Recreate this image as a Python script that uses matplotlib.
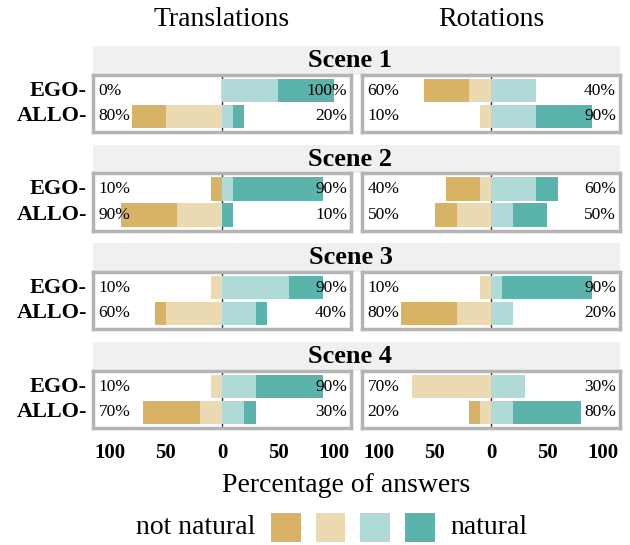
import matplotlib
matplotlib.use("Agg")
import matplotlib.pyplot as plt
from matplotlib.patches import Rectangle

plt.rcParams['font.family'] = ['Liberation Serif', 'DejaVu Serif']

# data: one [EGO, ALLO] pair per scene, in percent
scenes = ["Scene 1", "Scene 2", "Scene 3", "Scene 4"]
rows = ["EGO", "ALLO"]
columns = ["Translations", "Rotations"]

trans_gold = [[0, 30], [10, 50], [0, 10], [0, 50]]
trans_tan = [[0, 50], [0, 40], [10, 50], [10, 20]]
trans_lteal = [[50, 10], [10, 0], [60, 30], [30, 20]]
trans_teal = [[50, 10], [80, 10], [30, 10], [60, 10]]

rot_gold = [[40, 0], [30, 20], [0, 50], [0, 10]]
rot_tan = [[20, 10], [10, 30], [10, 30], [70, 10]]
rot_lteal = [[40, 40], [40, 20], [10, 20], [30, 20]]
rot_teal = [[0, 50], [20, 30], [80, 0], [0, 60]]

tick_vals = [-100, -50, 0, 50, 100]
tick_labels = ["100", "50", "0", "50", "100"]
legend_left = "not natural"
legend_right = "natural"

colors = ["#d8b365", "#ebd9b2", "#afdad7", "#5ab4ac"]
border = "#b4b4b4"
strip_bg = "#eff1f0"

W, H = 630, 545
fig = plt.figure(figsize=(W / 100, H / 100), dpi=100)


def box(x0, y0, x1, y1):
    """ pixel box (from top left) -> figure rect """
    return [x0 / W, 1 - y1 / H, (x1 - x0) / W, (y1 - y0) / H]


panel_x = [(93, 351), (362, 620)]
panel_tops = [75, 173.5, 272, 371]
panel_h = 57
strip_h = 29

data = [
    (trans_gold, trans_tan, trans_lteal, trans_teal),
    (rot_gold, rot_tan, rot_lteal, rot_teal),
]

for s, scene in enumerate(scenes):
    top = panel_tops[s]

    # strip with the scene name across both columns
    sax = fig.add_axes(box(panel_x[0][0], top - strip_h, panel_x[1][1], top))
    sax.set_facecolor(strip_bg)
    sax.set_xticks([])
    sax.set_yticks([])
    for sp in sax.spines.values():
        sp.set_visible(False)
    fig.text(350.5 / W, 1 - (top - strip_h / 2) / H, scene, ha="center", va="center",
             fontsize=19, fontweight="bold")

    for c in range(2):
        gold, tan, lteal, teal = data[c]
        ax = fig.add_axes(box(panel_x[c][0], top, panel_x[c][1], top + panel_h))
        ax.set_xlim(-115, 115)
        ax.set_ylim(-0.6, 1.6)
        ax.axvline(0, color="#333333", lw=1, zorder=0)

        for r in range(2):
            y = 1 - r  # EGO on top
            g, t, lt, tl = gold[s][r], tan[s][r], lteal[s][r], teal[s][r]
            ax.barh(y, t, left=-t, height=0.9, color=colors[1], lw=0, zorder=2)
            ax.barh(y, g, left=-t - g, height=0.9, color=colors[0], lw=0, zorder=2)
            ax.barh(y, lt, left=0, height=0.9, color=colors[2], lw=0, zorder=2)
            ax.barh(y, tl, left=lt, height=0.9, color=colors[3], lw=0, zorder=2)
            ax.text(-110, y, f"{g + t}%", ha="left", va="center", fontsize=12.5, zorder=3)
            ax.text(111.5, y, f"{lt + tl}%", ha="right", va="center", fontsize=12.5, zorder=3)

        for sp in ax.spines.values():
            sp.set_color(border)
            sp.set_linewidth(2.5)

        ax.set_yticks([])
        if c == 0:
            for r in range(2):
                fig.text(87 / W, 1 - (top + 16 + r * 25) / H, rows[r] + "-", ha="right",
                         va="center", fontsize=16, fontweight="bold")

        if s == len(scenes) - 1:
            ax.set_xticks(tick_vals)
            ax.set_xticklabels(tick_labels, fontsize=15, fontweight="bold")
            ax.tick_params(axis="x", length=0, pad=11)
        else:
            ax.set_xticks([])

# column titles
fig.text(222 / W, 1 - 20 / H, columns[0], ha="center", va="center", fontsize=20)
fig.text(491 / W, 1 - 20 / H, columns[1], ha="center", va="center", fontsize=20)

# axis title
fig.text(346 / W, 1 - 486 / H, "Percentage of answers", ha="center", va="center", fontsize=20)

# legend drawn by hand
leg_y = 527
fig.text(255 / W, 1 - leg_y / H, legend_left, ha="right", va="center", fontsize=20)
for i, col in enumerate(colors):
    x0 = 271 + i * 44.7
    fig.patches.append(Rectangle((x0 / W, 1 - (leg_y + 14.5) / H), 29.5 / W, 29 / H,
                                 transform=fig.transFigure, color=col, lw=0))
fig.text(450 / W, 1 - leg_y / H, legend_right, ha="left", va="center", fontsize=20)

fig.savefig("out.png", dpi=100)
